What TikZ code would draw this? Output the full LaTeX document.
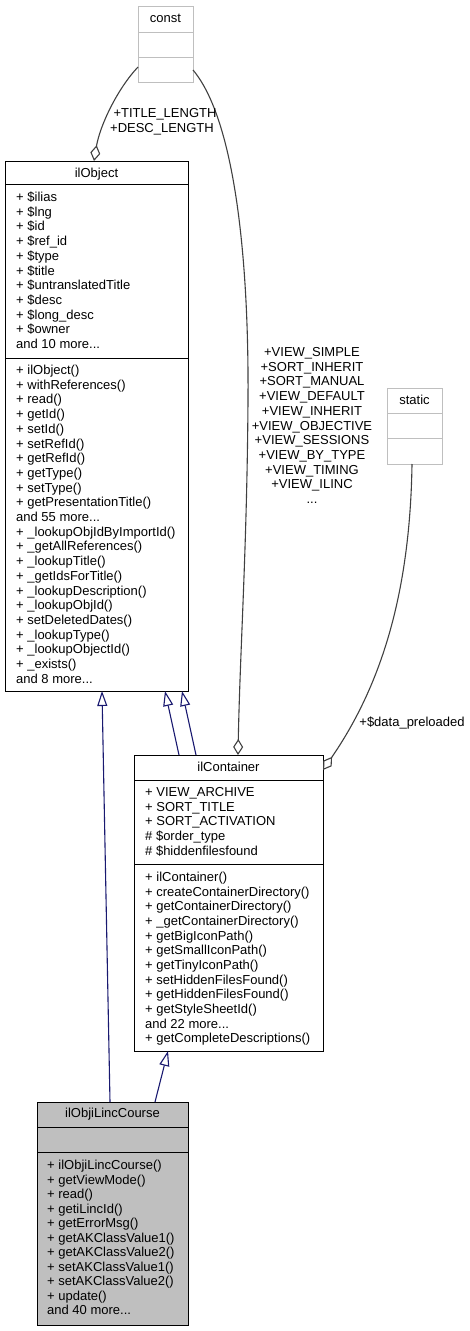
\documentclass[tikz,border=0pt]{standalone}
\usepackage{fontspec}
\setmainfont{Liberation Sans}
\usetikzlibrary{arrows.meta}
\definecolor{inh}{HTML}{191970}
\definecolor{agg}{HTML}{404040}
\definecolor{gbd}{HTML}{BFBFBF}
\newcommand{\mydots}{...}
\begin{document}
\begin{tikzpicture}[x=1pt,y=-1pt,
  box/.style={draw=black,line width=1.2pt,fill=white,inner sep=0pt,anchor=north west},
  gbox/.style={draw=gbd,line width=1.2pt,fill=white,inner sep=0pt,anchor=north west},
  sbox/.style={draw=black,line width=1.2pt,fill=gbd,inner sep=0pt,anchor=north west},
  txt/.style={inner sep=0pt,font=\fontsize{13}{14.7}\selectfont,anchor=base west},
  ttl/.style={inner sep=0pt,font=\fontsize{13}{14.7}\selectfont,anchor=base},
  lbl/.style={inner sep=0pt,font=\fontsize{13}{14.7}\selectfont,anchor=base},
  inhe/.style={draw=inh,line width=1.1pt,-{Triangle[open,fill=white,length=15pt,width=10pt]}},
  agge/.style={draw=agg,line width=1.1pt,-{Diamond[open,fill=white,length=16pt,width=10pt]}}]
\useasboundingbox (0,0) rectangle (470,1331);
% const
\node[gbox,minimum width=55pt,minimum height=26pt] (cH) at (138,6) {};
\node[gbox,minimum width=55pt,minimum height=25pt] (cA) at (138,32) {};
\node[gbox,minimum width=55pt,minimum height=25pt] (cM) at (138,57) {};
\node[ttl] (cT) at (165.5,22) {const};
% static
\node[gbox,minimum width=55pt,minimum height=25pt] (sH) at (387,388) {};
\node[gbox,minimum width=55pt,minimum height=25pt] (sA) at (387,413) {};
\node[gbox,minimum width=55pt,minimum height=26pt] (sM) at (387,438) {};
\node[ttl] (sT) at (414.5,404.5) {static};
% ilObject
\node[box,minimum width=183pt,minimum height=23pt] (oH) at (5,161) {};
\node[box,minimum width=183pt,minimum height=174pt] (oA) at (5,184) {};
\node[box,minimum width=183pt,minimum height=333pt] (oM) at (5,358) {};
\node[ttl] (oT) at (96.5,177.5) {ilObject};
\foreach \t [count=\i] in {+ \$ilias,+ \$lng,+ \$id,+ \$ref\_id,+ \$type,+ \$title,+ \$untranslatedTitle,+ \$desc,+ \$long\_desc,+ \$owner,and 10 more\mydots}
  \node[txt] (oa\i) at (16,{201.5+(\i-1)*14.7}) {\t};
\foreach \t [count=\i] in {+ ilObject(),+ withReferences(),+ read(),+ getId(),+ setId(),+ setRefId(),+ getRefId(),+ getType(),+ setType(),+ getPresentationTitle(),and 55 more\mydots,+ \_lookupObjIdByImportId(),+ \_getAllReferences(),+ \_lookupTitle(),+ \_getIdsForTitle(),+ \_lookupDescription(),+ \_lookupObjId(),+ setDeletedDates(),+ \_lookupType(),+ \_lookupObjectId(),+ \_exists(),and 8 more\mydots}
  \node[txt] (om\i) at (16,{374.5+(\i-1)*14.7}) {\t};
% ilContainer
\node[box,minimum width=189pt,minimum height=25pt] (kH) at (134,755) {};
\node[box,minimum width=189pt,minimum height=84pt] (kA) at (134,780) {};
\node[box,minimum width=189pt,minimum height=187pt] (kM) at (134,864) {};
\node[ttl] (kT) at (228.5,771.5) {ilContainer};
\foreach \t [count=\i] in {+ VIEW\_ARCHIVE,+ SORT\_TITLE,+ SORT\_ACTIVATION,\# \$order\_type,\# \$hiddenfilesfound}
  \node[txt] (ka\i) at (145,{796.5+(\i-1)*14.7}) {\t};
\foreach \t [count=\i] in {+ ilContainer(),+ createContainerDirectory(),+ getContainerDirectory(),+ \_getContainerDirectory(),+ getBigIconPath(),+ getSmallIconPath(),+ getTinyIconPath(),+ setHiddenFilesFound(),+ getHiddenFilesFound(),+ getStyleSheetId(),and 22 more\mydots,+ getCompleteDescriptions()}
  \node[txt] (km\i) at (145,{881.5+(\i-1)*14.65}) {\t};
% ilObjiLincCourse
\node[sbox,minimum width=151pt,minimum height=25pt] (lH) at (37,1102) {};
\node[sbox,minimum width=151pt,minimum height=25pt] (lA) at (37,1127) {};
\node[sbox,minimum width=151pt,minimum height=173pt] (lM) at (37,1152) {};
\node[ttl] (lT) at (112.5,1117.5) {ilObjiLincCourse};
\foreach \t [count=\i] in {+ ilObjiLincCourse(),+ getViewMode(),+ read(),+ getiLincId(),+ getErrorMsg(),+ getAKClassValue1(),+ getAKClassValue2(),+ setAKClassValue1(),+ setAKClassValue2(),+ update(),and 40 more\mydots}
  \node[txt] (lm\i) at (47,{1169.5+(\i-1)*14.5}) {\t};
% coordinates
\coordinate (c1) at (138,67);
\coordinate (c2) at (193,70);
\coordinate (s1) at (412,464);
\coordinate (d1) at (94,161);
\coordinate (d2) at (238,755);
\coordinate (d3) at (323,770);
\coordinate (i1) at (179,755);
\coordinate (i2) at (196,755);
\coordinate (t1) at (165,691);
\coordinate (t2) at (182,691);
\coordinate (l1) at (110,1102);
\coordinate (t3) at (102,691);
\coordinate (l2) at (155,1102);
\coordinate (t4) at (168,1051);
% edges
\draw[agge] (c1) .. controls (118,88) and (100,125) .. (d1);
\draw[agge] (c2) .. controls (235,120) and (249,260) .. (248,400) .. controls (247,550) and (240,650) .. (d2);
\draw[agge] (s1) .. controls (410,600) and (378,690) .. (d3);
\draw[inhe] (i1) -- (t1);
\draw[inhe] (i2) -- (t2);
\draw[inhe] (l1) -- (t3);
\draw[inhe] (l2) -- (t4);
% labels
\node[lbl] (L1) at (165,117) {+TITLE\_LENGTH};
\node[lbl] (L2) at (162,132) {+DESC\_LENGTH};
\foreach \t [count=\i] in {+VIEW\_SIMPLE,+SORT\_INHERIT,+SORT\_MANUAL,+VIEW\_DEFAULT,+VIEW\_INHERIT,+VIEW\_OBJECTIVE,+VIEW\_SESSIONS,+VIEW\_BY\_TYPE,+VIEW\_TIMING,+VIEW\_ILINC,\mydots}
  \node[lbl] (V\i) at (312,{356.5+(\i-1)*14.7}) {\t};
\node[lbl] (L3) at (412,726.5) {+\$data\_preloaded};
\end{tikzpicture}
\end{document}
